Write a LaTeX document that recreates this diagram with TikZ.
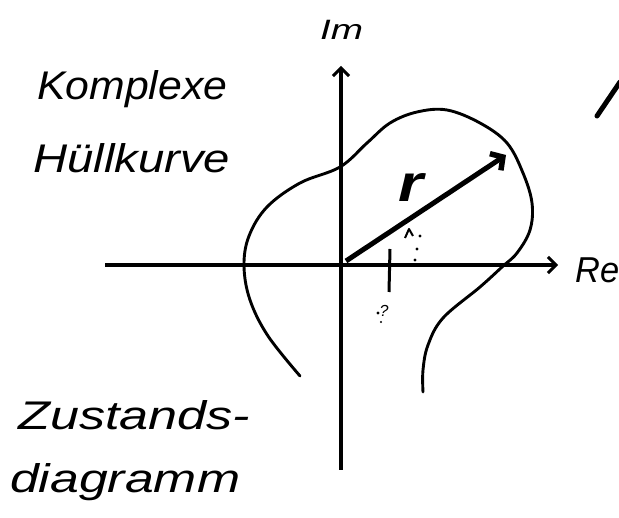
\documentclass[tikz,border=0pt]{standalone}
\usepackage{fontspec}
\setmainfont{Liberation Sans}
\usetikzlibrary{arrows.meta}
\newcommand{\hw}[2]{\resizebox{#1}{\height}{#2}}
\tikzset{
  lbl/.style={anchor=base west, inner sep=0pt, font=\itshape\fontsize{40}{44}\selectfont},
  axis/.style={line width=3.6pt, -{Straight Barb[length=8pt,width=16pt,line width=3pt]}},
  curve/.style={line width=2.9pt, line cap=round},
  vec/.style={line width=5pt, -{Straight Barb[length=9pt,width=20pt,line width=5.5pt]}},
  dotm/.style={fill=black, inner sep=0pt, minimum size=3.4pt, circle}
}
\begin{document}
\begin{tikzpicture}[x=1pt,y=-1pt]
\useasboundingbox (0,0) rectangle (619,518);
% labels
\node[lbl] (k) at (37,100) {\hw{190pt}{Komplexe}};
\node[lbl] (h) at (33,173) {\hw{197pt}{Hüllkurve}};
\node[lbl] (z) at (18,430) {\hw{232pt}{Zustands-}};
\node[lbl] (d) at (10,493) {\hw{230pt}{diagramm}};
\node[lbl, font=\itshape\fontsize{28}{32}\selectfont] (im) at (320,40) {\hw{43pt}{Im}};
\node[lbl, font=\itshape\fontsize{36}{40}\selectfont] (re) at (575,283) {\hw{44pt}{Re}};
\node[lbl, font=\bfseries\itshape\fontsize{52}{56}\selectfont] (r) at (398,202) {\hw{25pt}{r}};
% axes
\coordinate (xl) at (105,265);
\coordinate (xr) at (558,265);
\coordinate (yb) at (341,470);
\coordinate (yt) at (341,66);
\draw[axis] (xl) -- (xr);
\draw[axis] (yb) -- (yt);
% envelope curve
\draw[curve] plot[smooth, tension=0.6] coordinates {
 (300,376) (268,336) (250,300) (244,266) (249,236) (267,207) (300,183)
 (340,167) (367,143) (390,123) (417,112) (447,110) (480,123) (507,143)
 (523,173) (532,203) (530,230) (517,253) (502,267) (480,287) (443,318)
 (428,345) (423,370) (423,392)};
% vector
\coordinate (o) at (346,261);
\coordinate (tip) at (506,155);
\draw[vec] (o) -- (tip);
% tick and projection marks
\coordinate (t1) at (390,249);
\coordinate (t2) at (389,292);
\draw[line width=3pt] (t1) -- (t2);
\coordinate (c1) at (405,238);
\coordinate (c2) at (409,229);
\coordinate (c3) at (413,236);
\draw[line width=2pt, line join=round] (c1) -- (c2) -- (c3);
\node[dotm] (p1) at (420,236) {};
\node[dotm] (p2) at (417,249) {};
\node[dotm] (p3) at (415,260) {};
\node[inner sep=0pt, font=\itshape\fontsize{16}{18}\selectfont] (q) at (384,311) {?};
\node[dotm] (p4) at (378,313) {};
\node[dotm, minimum size=2.4pt] (p5) at (381,322) {};
% partial letter at right edge
\coordinate (a1) at (597,116);
\coordinate (a2) at (620,82);
\draw[line width=5pt, line cap=round] (a1) -- (a2);
\end{tikzpicture}
\end{document}
